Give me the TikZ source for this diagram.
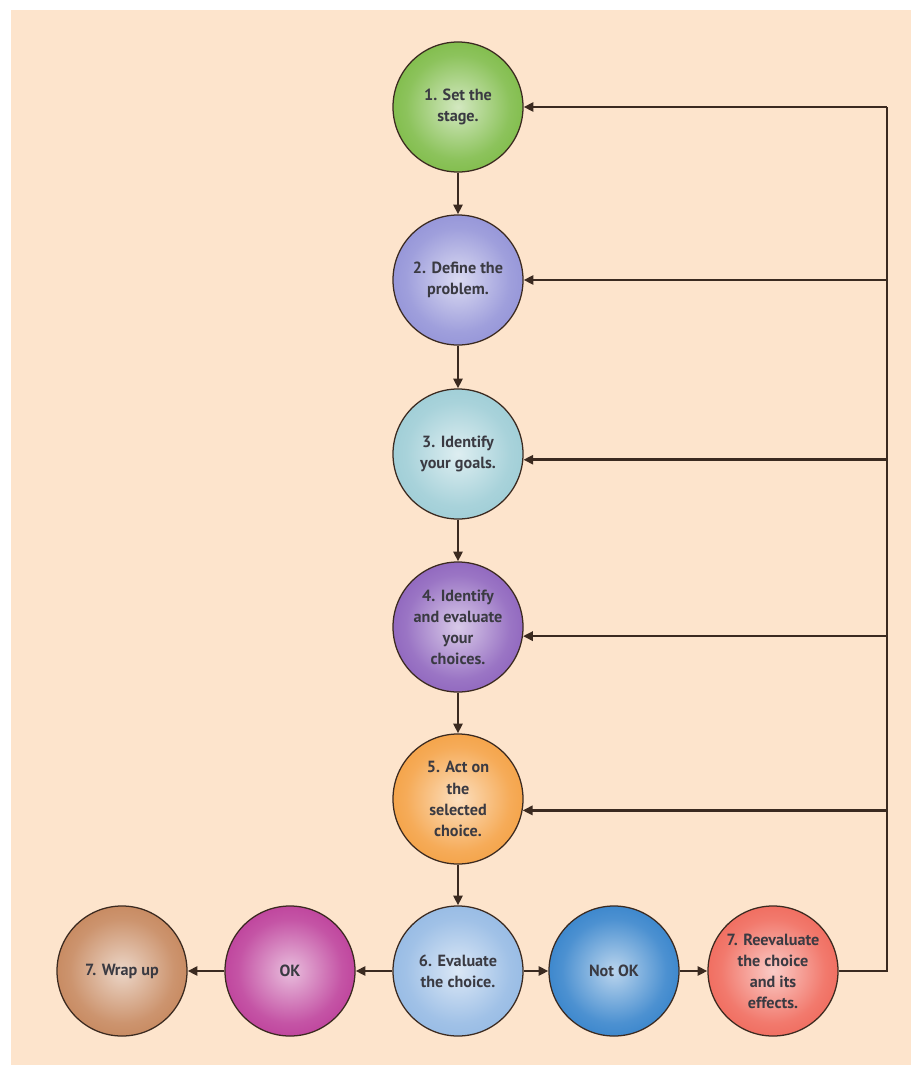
\documentclass[tikz,border=0pt]{standalone}
\usepackage{fontspec}
\setmainfont{PT Sans}
\usetikzlibrary{arrows.meta}

\definecolor{peach}{HTML}{FDE4CC}
\definecolor{wire}{HTML}{3B2A20}
\definecolor{ink}{HTML}{3A3A42}
\definecolor{cstage}{HTML}{6CB22E}
\definecolor{cproblem}{HTML}{8484D2}
\definecolor{cgoals}{HTML}{90C6D0}
\definecolor{cchoices}{HTML}{7E4EB4}
\definecolor{cact}{HTML}{F3942A}
\definecolor{ceval}{HTML}{86B0E0}
\definecolor{cnotok}{HTML}{1A72C4}
\definecolor{creeval}{HTML}{EE5444}
\definecolor{cok}{HTML}{B4248C}
\definecolor{cwrap}{HTML}{BE7646}
\colorlet{bubcol}{black}

\pgfdeclareradialshading[bubcol]{bubble}{\pgfpoint{0bp}{0bp}}{color(0bp)=(bubcol!30!white); color(20bp)=(bubcol!78!white); color(38bp)=(bubcol); color(50bp)=(bubcol!88!black)}

\begin{document}
\begin{tikzpicture}[x=0.025cm,y=-0.025cm,
    tone/.code={\colorlet{bubcol}{#1}},
    stage/.style={circle,minimum size=3.25cm,inner sep=0pt,draw=wire,line width=.9pt,
      shading=bubble,align=center,text=ink,font=\fontsize{11.5}{15}\selectfont\bfseries},
    link/.style={wire,line width=1.8pt},
    flow/.style={link,-{Triangle[length=7pt,width=6.5pt]}}]
    \useasboundingbox (0,0) rectangle (911,1065);
    \fill[peach] (11,10) rectangle (911,1065);

    \node[stage,tone=cstage] (n1) at (458,107) {1. Set the\\stage.};
    \node[stage,tone=cproblem] (n2) at (458,280) {2. Define the\\problem.};
    \node[stage,tone=cgoals] (n3) at (458,454) {3. Identify\\your goals.};
    \node[stage,tone=cchoices] (n4) at (458,627) {4. Identify\\and evaluate\\your\\choices.};
    \node[stage,tone=cact] (n5) at (458,799) {5. Act on\\the\\selected\\choice.};
    \node[stage,tone=ceval] (n6) at (458,971) {6. Evaluate\\the choice.};
    \node[stage,tone=cok] (ok) at (290,971) {OK};
    \node[stage,tone=cwrap] (wrap) at (122,971) {7. Wrap up};
    \node[stage,tone=cnotok] (notok) at (614,971) {Not OK};
    \node[stage,tone=creeval] (reeval) at (773,971) {7. Reevaluate\\the choice\\and its\\effects.};
    \coordinate (bus) at (887,107);

    \foreach \a/\b in {n1/n2,n2/n3,n3/n4,n4/n5,n5/n6,n6/ok,ok/wrap,n6/notok,notok/reeval}
    \draw[flow] (\a) -- (\b);

    \draw[link] (reeval.east) -| (bus);
    \draw[flow] (bus) -- (n1.east);
    \foreach \n/\t in {n2/0,n3/-5,n4/-8,n5/-10}
    \draw[flow] (bus |- \n.\t) -- (\n.\t);
\end{tikzpicture}
\end{document}
